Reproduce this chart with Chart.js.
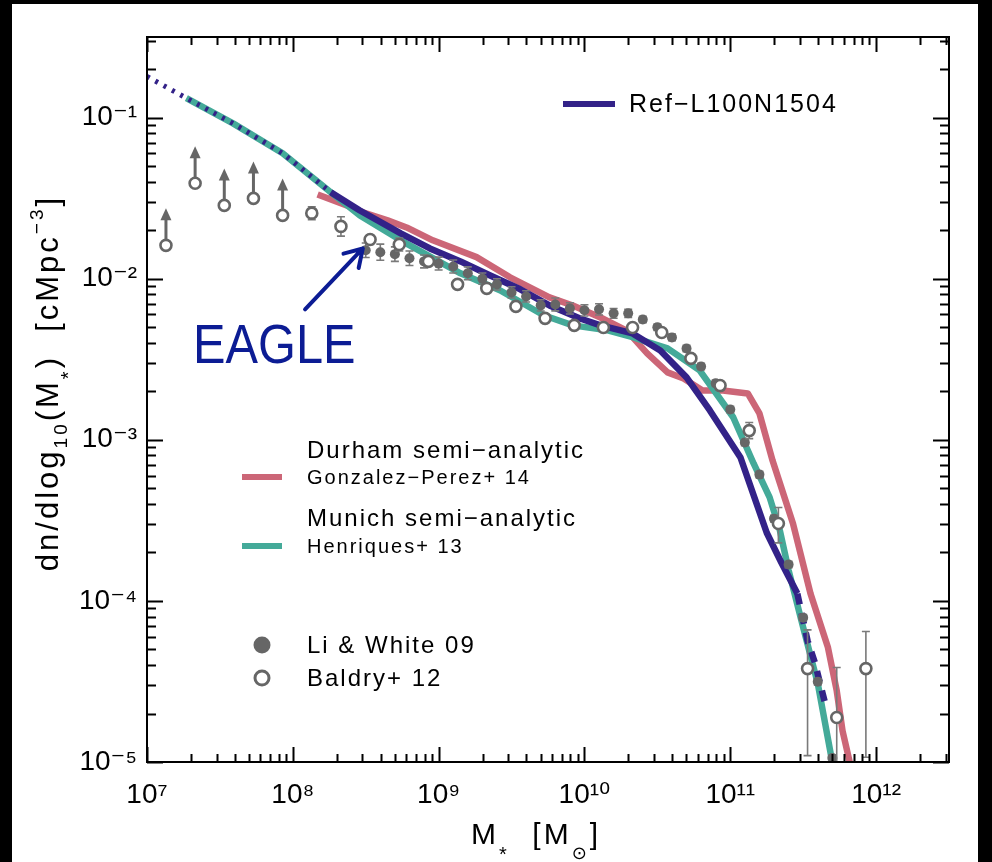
<!DOCTYPE html>
<html>
<head>
<meta charset="utf-8">
<script src="https://cdn.jsdelivr.net/npm/chart.js@4.4.0/dist/chart.umd.min.js"></script>
<style>
html,body{margin:0;padding:0;background:#000;}
canvas{display:block;}
</style>
</head>
<body>
<canvas id="c" width="992" height="862"></canvas>
<script>
const FONT = '"Liberation Sans", "DejaVu Sans", Arial, sans-serif';

// ---------------- data (log10 stellar mass, number density) ----------------
// EAGLE Ref-L100N1504
const refLogMass = [7.00, 7.27, 7.59, 7.93, 8.26, 8.46, 8.74, 8.94, 9.15, 9.35, 9.56, 9.76, 9.97, 10.11, 10.33, 10.52, 10.70, 10.86, 11.07, 11.25, 11.35, 11.46, 11.53, 11.58, 11.66];
const refPhi     = [0.180, 0.132, 0.0920, 0.0600, 0.0344, 0.0265, 0.0191, 0.0154, 0.0128, 0.0105, 0.00859, 0.00682, 0.00566, 0.00513, 0.00457, 0.00358, 0.00244, 0.00152, 7.76e-4, 2.65e-4, 1.73e-4, 1.11e-4, 5.66e-5, 4.14e-5, 2.14e-5];
const refResolvedFromLogMass = 8.26;   // below: dotted (resolution limit)
const refSparseFromLogMass   = 11.46;  // above: dashed (few objects)

// Munich semi-analytic (Henriques+ 13)
const henLogMass = [7.27, 7.59, 7.93, 8.26, 8.46, 8.74, 9.15, 9.42, 9.72, 9.92, 10.16, 10.33, 10.57, 10.79, 11.02, 11.16, 11.27, 11.34, 11.40, 11.50, 11.60, 11.70];
const henPhi     = [0.132, 0.0920, 0.0600, 0.0344, 0.0247, 0.0173, 0.0108, 0.00847, 0.00593, 0.00513, 0.00478, 0.00433, 0.00369, 0.00270, 0.00138, 7.13e-4, 4.39e-4, 2.74e-4, 1.55e-4, 6.84e-5, 3.07e-5, 9.93e-6];

// Durham semi-analytic (Gonzalez-Perez+ 14)
const gpLogMass = [8.17, 8.37, 8.48, 8.65, 8.78, 8.96, 9.26, 9.49, 9.76, 9.92, 10.11, 10.29, 10.43, 10.57, 10.68, 10.81, 10.95, 11.12, 11.20, 11.29, 11.43, 11.55, 11.67, 11.73, 11.77, 11.82];
const gpPhi     = [0.0333, 0.0285, 0.0258, 0.0230, 0.0208, 0.0173, 0.0136, 0.0102, 0.00766, 0.00682, 0.00574, 0.00476, 0.00344, 0.00262, 0.00240, 0.00202, 0.00202, 0.00194, 0.00146, 7.43e-4, 3.02e-4, 1.11e-4, 5.13e-5, 2.77e-5, 1.56e-5, 9.9e-6];

// Li & White 09 (filled circles)
const liLogMass = [8.5, 8.6, 8.7, 8.8, 8.9, 9.0, 9.1, 9.2, 9.3, 9.4, 9.5, 9.6, 9.7, 9.8, 9.9, 10.0, 10.1, 10.2, 10.3, 10.4, 10.5, 10.6, 10.7, 10.8, 10.9, 11.0, 11.1, 11.2, 11.3, 11.4, 11.5, 11.6, 11.7];
const liPhi     = [1.50e-2, 1.46e-2, 1.42e-2, 1.34e-2, 1.28e-2, 1.24e-2, 1.19e-2, 1.08e-2, 1.00e-2, 9.22e-3, 8.22e-3, 7.76e-3, 6.83e-3, 6.92e-3, 6.54e-3, 6.36e-3, 6.45e-3, 6.09e-3, 6.09e-3, 5.58e-3, 4.99e-3, 4.32e-3, 3.69e-3, 2.85e-3, 2.24e-3, 1.54e-3, 9.62e-4, 6.08e-4, 3.24e-4, 1.68e-4, 7.87e-5, 3.15e-5, 1.06e-5];
const liErrDex  = [0.045, 0.05, 0.045, 0.045, 0.04, 0.04, 0.04, 0.04, 0.035, 0.035, 0.035, 0.035, 0.035, 0.04, 0.035, 0.035, 0.035, 0.03, 0.025, 0.02, 0.02, 0.02, 0.02, 0.02, 0.02, 0.02, 0.02, 0.02, 0.02, 0.02, 0.02, 0.02, 0.02];

// Baldry+ 12 (open circles)
const baldryLogMass = [7.13, 7.33, 7.53, 7.73, 7.93, 8.13, 8.33, 8.53, 8.73, 8.93, 9.13, 9.33, 9.53, 9.73, 9.93, 10.13, 10.33, 10.53, 10.73, 10.93, 11.13, 11.33, 11.53, 11.73, 11.93];
const baldryPhi     = [1.61e-2, 3.91e-2, 2.85e-2, 3.15e-2, 2.47e-2, 2.55e-2, 2.11e-2, 1.75e-2, 1.63e-2, 1.28e-2, 9.22e-3, 8.71e-3, 6.73e-3, 5.67e-3, 5.13e-3, 4.98e-3, 4.98e-3, 4.63e-3, 3.20e-3, 2.17e-3, 1.14e-3, 3.02e-4, 3.80e-5, 1.89e-5, 3.80e-5];
const baldryErrDnDex = [0, 0, 0, 0, 0, 0.04, 0.06, 0.03, 0.04, 0.02, 0.02, 0.02, 0.02, 0.02, 0.02, 0.02, 0.02, 0.02, 0.02, 0.03, 0.05, 0.12, 0.54, 2.0, 0.55];
const baldryErrUpDex = [0, 0, 0, 0, 0, 0.04, 0.06, 0.03, 0.04, 0.02, 0.02, 0.02, 0.02, 0.02, 0.02, 0.02, 0.02, 0.02, 0.02, 0.03, 0.05, 0.10, 0.24, 0.31, 0.23];
const baldryLowerLimit = [true, true, true, true, true, false, false, false, false, false, false, false, false, false, false, false, false, false, false, false, false, false, false, false, false];

// axis ticks
const xMajorTicks = [1e7, 1e8, 1e9, 1e10, 1e11, 1e12];
const yMajorTicks = [1e-5, 1e-4, 1e-3, 1e-2, 1e-1];
const xMin = 1e7, xMax = Math.pow(10, 12.5);
const yMin = 1e-5, yMax = Math.pow(10, -0.5);

// annotation anchor (data coordinates)
const eagleText = {label: 'EAGLE', logMass: 7.316, phi: 0.00298};
const eagleArrow = {fromLogMass: 8.084, fromPhi: 0.00645, toLogMass: 8.48, toPhi: 0.0154};

// ---------------- colours ----------------
const C_REF = '#332288', C_HEN = '#44AA99', C_GP = '#CC6677', C_OBS = '#666666', C_ERR = '#7a7a7a', C_EAGLE = '#0c1c94';

const pts = (lm, phi) => lm.map((m, i) => ({x: Math.pow(10, m), y: phi[i]}));
const SUP = {'-': '⁻', '0': '⁰', '1': '¹', '2': '²', '3': '³', '4': '⁴', '5': '⁵', '6': '⁶', '7': '⁷', '8': '⁸', '9': '⁹'};
const tickLabel = v => '10' + String(Math.round(Math.log10(v))).split('').map(c => SUP[c]).join('');

function allLogTicks(minV, maxV) {
  const out = [];
  for (let e = Math.round(Math.log10(minV)); e <= Math.ceil(Math.log10(maxV)); e++) {
    for (let k = 1; k < 10; k++) {
      const v = k * Math.pow(10, e);
      if (v >= minV * 0.9999 && v <= maxV * 1.0001) out.push({v, major: k === 1});
    }
  }
  return out;
}

function richDraw(ctx, parts, x, y, base, align) {
  let w = 0;
  for (const p of parts) { ctx.font = `${Math.round(base * (p.s || 1))}px ${FONT}`; w += ctx.measureText(p.t).width; }
  let cx = align === 'center' ? x - w / 2 : x;
  ctx.textBaseline = 'alphabetic';
  ctx.textAlign = 'left';
  for (const p of parts) {
    ctx.font = `${Math.round(base * (p.s || 1))}px ${FONT}`;
    ctx.fillText(p.t, cx, y + (p.dy || 0) * base);
    cx += ctx.measureText(p.t).width;
  }
}

const decor = {
  id: 'decor',
  beforeDraw(chart) {
    const c = chart.ctx;
    c.save();
    c.fillStyle = '#000'; c.fillRect(0, 0, chart.width, chart.height);
    c.fillStyle = '#fff'; c.fillRect(12, 4, 966, 858);
    c.restore();
  },
  beforeDatasetDraw(chart, args) {
    const ds = chart.data.datasets[args.index];
    if (!ds.errDn && !ds.lowerLimit) return;
    const c = chart.ctx, xs = chart.scales.x, ys = chart.scales.y, a = chart.chartArea;
    c.save();
    c.beginPath(); c.rect(a.left, a.top, a.right - a.left, a.bottom - a.top); c.clip();
    ds.data.forEach((p, i) => {
      const px = xs.getPixelForValue(p.x), py = ys.getPixelForValue(p.y);
      if (ds.errDn && (ds.errDn[i] > 0 || ds.errUp[i] > 0)) {
        const y1 = ys.getPixelForValue(p.y * Math.pow(10, -ds.errDn[i]));
        const y2 = ys.getPixelForValue(p.y * Math.pow(10, ds.errUp[i]));
        c.strokeStyle = C_ERR; c.lineWidth = 1.6;
        c.beginPath();
        c.moveTo(px, y1); c.lineTo(px, y2);
        c.moveTo(px - 4, y1); c.lineTo(px + 4, y1);
        c.moveTo(px - 4, y2); c.lineTo(px + 4, y2);
        c.stroke();
      }
      if (ds.lowerLimit && ds.lowerLimit[i]) {
        const tip = py - 37;
        c.strokeStyle = C_OBS; c.fillStyle = C_OBS; c.lineWidth = 3;
        c.beginPath(); c.moveTo(px, py); c.lineTo(px, tip + 8); c.stroke();
        c.beginPath(); c.moveTo(px, tip); c.lineTo(px - 5.5, tip + 12); c.lineTo(px + 5.5, tip + 12); c.closePath(); c.fill();
      }
    });
    c.restore();
  },
  afterDatasetsDraw(chart) {
    const c = chart.ctx, xs = chart.scales.x, ys = chart.scales.y, a = chart.chartArea;
    c.save();
    c.strokeStyle = '#000'; c.lineWidth = 2; c.lineCap = 'butt';
    c.strokeRect(a.left, a.top, a.right - a.left, a.bottom - a.top);
    c.beginPath();
    for (const t of allLogTicks(xMin, xMax)) {
      const px = Math.round(xs.getPixelForValue(t.v)) + 0.5, len = t.major ? 15 : 8;
      c.moveTo(px, a.bottom); c.lineTo(px, a.bottom - len);
      c.moveTo(px, a.top); c.lineTo(px, a.top + len);
    }
    for (const t of allLogTicks(yMin, yMax)) {
      const py = Math.round(ys.getPixelForValue(t.v)) + 0.5, len = t.major ? 16 : 9;
      c.moveTo(a.left, py); c.lineTo(a.left + len, py);
      c.moveTo(a.right, py); c.lineTo(a.right - len, py);
    }
    c.stroke();

    // EAGLE annotation
    const tx = xs.getPixelForValue(Math.pow(10, eagleText.logMass)), ty = ys.getPixelForValue(eagleText.phi);
    c.fillStyle = C_EAGLE;
    c.save();
    c.translate(tx, ty); c.scale(0.87, 1);
    c.font = `56px ${FONT}`; c.textAlign = 'left'; c.textBaseline = 'alphabetic';
    c.fillText(eagleText.label, 0, 0);
    c.restore();
    const ax0 = xs.getPixelForValue(Math.pow(10, eagleArrow.fromLogMass)), ay0 = ys.getPixelForValue(eagleArrow.fromPhi);
    const ax1 = xs.getPixelForValue(Math.pow(10, eagleArrow.toLogMass)), ay1 = ys.getPixelForValue(eagleArrow.toPhi);
    const ang = Math.atan2(ay0 - ay1, ax0 - ax1);
    c.strokeStyle = C_EAGLE; c.lineWidth = 4; c.lineCap = 'round'; c.lineJoin = 'round';
    c.beginPath();
    c.moveTo(ax0, ay0); c.lineTo(ax1, ay1);
    c.moveTo(ax1 + 20 * Math.cos(ang + 0.55), ay1 + 20 * Math.sin(ang + 0.55));
    c.lineTo(ax1, ay1);
    c.lineTo(ax1 + 20 * Math.cos(ang - 0.55), ay1 + 20 * Math.sin(ang - 0.55));
    c.stroke();
    c.restore();
  },
  afterDraw(chart) {
    const c = chart.ctx;
    c.save();
    c.fillStyle = '#000';
    c.letterSpacing = '2px';
    c.textAlign = 'left'; c.textBaseline = 'middle';
    // legend: Ref
    c.strokeStyle = C_REF; c.lineWidth = 6; c.lineCap = 'butt';
    c.beginPath(); c.moveTo(563, 104); c.lineTo(615, 104); c.stroke();
    c.font = `25px ${FONT}`; c.fillText('Ref\u2212L100N1504', 629, 105);
    // Durham
    c.strokeStyle = C_GP; c.beginPath(); c.moveTo(242, 477); c.lineTo(282, 477); c.stroke();
    c.font = `24px ${FONT}`; c.fillText('Durham semi\u2212analytic', 307, 451);
    c.font = `20px ${FONT}`; c.fillText('Gonzalez\u2212Perez+ 14', 307, 478);
    // Munich
    c.strokeStyle = C_HEN; c.beginPath(); c.moveTo(242, 546); c.lineTo(282, 546); c.stroke();
    c.font = `24px ${FONT}`; c.fillText('Munich semi\u2212analytic', 307, 519);
    c.font = `20px ${FONT}`; c.fillText('Henriques+ 13', 307, 547);
    // observations
    c.fillStyle = C_OBS; c.beginPath(); c.arc(262, 645, 8.5, 0, Math.PI * 2); c.fill();
    c.strokeStyle = C_OBS; c.lineWidth = 3; c.fillStyle = '#fff';
    c.beginPath(); c.arc(262, 678, 7, 0, Math.PI * 2); c.fill(); c.stroke();
    c.fillStyle = '#000';
    c.font = `24px ${FONT}`; c.fillText('Li & White 09', 307, 646);
    c.fillText('Baldry+ 12', 307, 679);

    // axis titles
    c.letterSpacing = '3px';
    c.fillStyle = '#000';
    richDraw(c, [
      {t: 'M'}, {t: '*', s: 0.65, dy: 0.55}, {t: '  [M'}, {t: '\u2299', s: 0.6, dy: 0.5}, {t: ']'}
    ], 536, 844, 30, 'center');
    c.save();
    c.translate(58, 383); c.rotate(-Math.PI / 2);
    richDraw(c, [
      {t: 'dn/dlog'}, {t: '10', s: 0.6, dy: 0.28}, {t: '(M'}, {t: '*', s: 0.65, dy: 0.55}, {t: ')  [cMpc'}, {t: '\u22123', s: 0.6, dy: -0.5}, {t: ']'}
    ], 0, 0, 31, 'center');
    c.restore();
    c.restore();
  }
};

const chart = new Chart(document.getElementById('c'), {
  type: 'line',
  data: {
    datasets: [
      {
        label: 'Baldry+ 12', data: pts(baldryLogMass, baldryPhi), showLine: false,
        pointRadius: 5.5, pointBorderWidth: 2.6, pointBackgroundColor: '#fff', pointBorderColor: C_OBS,
        errDn: baldryErrDnDex, errUp: baldryErrUpDex, lowerLimit: baldryLowerLimit, order: 0, clip: 0
      },
      {
        label: 'Li & White 09', data: pts(liLogMass, liPhi), showLine: false,
        pointRadius: 5, pointBorderWidth: 0, pointBackgroundColor: C_OBS, pointBorderColor: C_OBS,
        errDn: liErrDex, errUp: liErrDex, order: 1, clip: 0
      },
      {
        label: 'Ref-L100N1504', data: pts(refLogMass, refPhi), borderColor: C_REF, borderWidth: 6.5,
        pointRadius: 0, tension: 0, order: 2, clip: 0, borderJoinStyle: 'round',
        segment: {
          borderDash: s => s.p1.parsed.x <= Math.pow(10, refResolvedFromLogMass) * 1.001 ? [3, 6.5]
                        : (s.p0.parsed.x >= Math.pow(10, refSparseFromLogMass) * 0.999 ? [11, 9] : undefined),
          borderWidth: s => s.p1.parsed.x <= Math.pow(10, refResolvedFromLogMass) * 1.001 ? 5 : undefined
        }
      },
      {
        label: 'Henriques+ 13', data: pts(henLogMass, henPhi), borderColor: C_HEN, borderWidth: 6.5,
        pointRadius: 0, tension: 0, order: 3, clip: 0, borderJoinStyle: 'round'
      },
      {
        label: 'Gonzalez-Perez+ 14', data: pts(gpLogMass, gpPhi), borderColor: C_GP, borderWidth: 6.5,
        pointRadius: 0, tension: 0, order: 4, clip: 0, borderJoinStyle: 'round'
      }
    ]
  },
  options: {
    responsive: false, animation: false, devicePixelRatio: 1,
    layout: {padding: {top: 37, right: 43, left: 0, bottom: 0}},
    scales: {
      x: {
        type: 'logarithmic', min: xMin, max: xMax, position: 'bottom',
        afterBuildTicks: s => { s.ticks = xMajorTicks.map(v => ({value: v})); },
        afterFit: s => { s.height = 100; },
        grid: {display: false, drawTicks: false}, border: {display: false},
        ticks: {autoSkip: false, maxRotation: 0, padding: 16, color: '#000', font: {family: FONT, size: 28}, callback: v => tickLabel(v)}
      },
      y: {
        type: 'logarithmic', min: yMin, max: yMax, position: 'left',
        afterBuildTicks: s => { s.ticks = yMajorTicks.map(v => ({value: v})); },
        afterFit: s => { s.width = 147; },
        grid: {display: false, drawTicks: false}, border: {display: false},
        ticks: {autoSkip: false, padding: 10, color: '#000', font: {family: FONT, size: 28}, callback: v => tickLabel(v)}
      }
    },
    plugins: {legend: {display: false}, tooltip: {enabled: false}}
  },
  plugins: [decor]
});
</script>
</body>
</html>
